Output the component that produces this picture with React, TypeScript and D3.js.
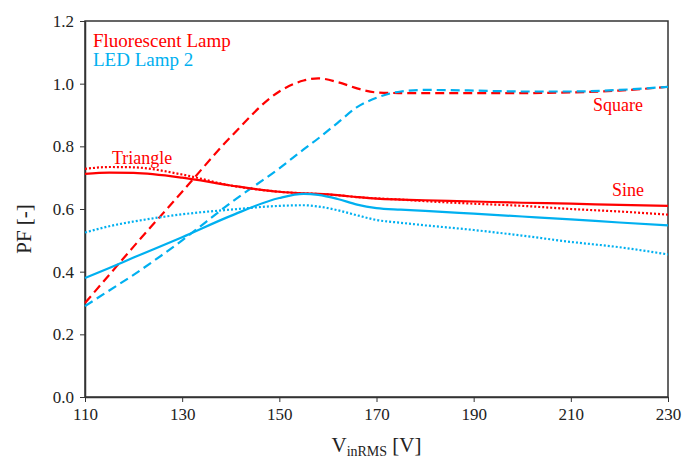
import { useEffect, useRef } from "react";
import * as d3 from "d3";

// voltage samples (V)
const voltages = [110, 115, 120, 130, 140, 150, 155, 158, 162, 166, 170, 175, 180, 190, 200, 210, 220, 230];

// PF values per series
const flSquare = [0.3, 0.39, 0.48, 0.655, 0.83, 0.975, 1.01, 1.017, 1.005, 0.985, 0.972, 0.97, 0.97, 0.97, 0.97, 0.972, 0.978, 0.99];
const flSine = [0.712, 0.716, 0.715, 0.7, 0.675, 0.655, 0.65, 0.648, 0.644, 0.638, 0.633, 0.63, 0.628, 0.624, 0.62, 0.617, 0.613, 0.61];
const flTriangle = [0.728, 0.734, 0.733, 0.71, 0.675, 0.655, 0.65, 0.648, 0.644, 0.638, 0.634, 0.63, 0.625, 0.617, 0.61, 0.6, 0.592, 0.582];
const ledSquare = [0.29, 0.34, 0.39, 0.5, 0.62, 0.73, 0.79, 0.825, 0.875, 0.925, 0.955, 0.975, 0.98, 0.978, 0.975, 0.975, 0.98, 0.99];
const ledSine = [0.38, 0.412, 0.445, 0.51, 0.578, 0.635, 0.648, 0.645, 0.632, 0.614, 0.603, 0.598, 0.594, 0.585, 0.576, 0.567, 0.557, 0.548];
const ledTriangle = [0.525, 0.545, 0.56, 0.583, 0.598, 0.61, 0.612, 0.608, 0.596, 0.58, 0.565, 0.556, 0.548, 0.533, 0.515, 0.495, 0.478, 0.455];

const xTicks = [110, 130, 150, 170, 190, 210, 230];
const yTicks = [0, 0.2, 0.4, 0.6, 0.8, 1.0, 1.2];

const RED = "#ff0000";
const BLUE = "#00b0f0";

const series = [
  { values: flSquare, color: RED, dash: "9,5" },
  { values: ledSquare, color: BLUE, dash: "9,5" },
  { values: flTriangle, color: RED, dash: "2,2" },
  { values: ledTriangle, color: BLUE, dash: "2,2" },
  { values: flSine, color: RED, dash: null },
  { values: ledSine, color: BLUE, dash: null },
];

const FONT = "Liberation Serif";

export default function App() {
  const ref = useRef<SVGSVGElement>(null);

  useEffect(() => {
    if (!ref.current) return;
    const margin = { top: 21, right: 14, bottom: 62, left: 85 };
    const W = 682;
    const H = 459;
    const width = W - margin.left - margin.right;
    const height = H - margin.top - margin.bottom;

    const root = d3.select(ref.current);
    root.selectAll("*").remove();
    const svg = root
      .append("g")
      .attr("transform", `translate(${margin.left},${margin.top})`);

    const x = d3.scaleLinear().domain([110, 230]).range([0, width]);
    const y = d3.scaleLinear().domain([0, 1.2]).range([height, 0]);

    // frame
    svg
      .append("rect")
      .attr("width", width)
      .attr("height", height)
      .attr("fill", "none")
      .attr("stroke", "#333")
      .attr("stroke-width", 1.5);

    // axes
    const xAxis = svg
      .append("g")
      .attr("transform", `translate(0,${height})`)
      .call(d3.axisBottom(x).tickValues(xTicks).tickSize(5).tickSizeOuter(0).tickPadding(6));
    const yAxis = svg
      .append("g")
      .call(
        d3
          .axisLeft(y)
          .tickValues(yTicks)
          .tickSize(5)
          .tickSizeOuter(0)
          .tickPadding(6)
          .tickFormat(d3.format(".1f"))
      );
    [xAxis, yAxis].forEach((g) => {
      g.attr("font-family", FONT).attr("font-size", 17);
      g.select(".domain").attr("stroke", "#333").attr("stroke-width", 1.5);
      g.selectAll(".tick line").attr("stroke", "#333");
      g.selectAll("text").attr("fill", "#222");
    });

    // lines
    const line = d3
      .line<number>()
      .x((_, i) => x(voltages[i]))
      .y((d) => y(d))
      .curve(d3.curveMonotoneX);

    series.forEach((s) => {
      svg
        .append("path")
        .datum(s.values)
        .attr("d", line)
        .attr("fill", "none")
        .attr("stroke", s.color)
        .attr("stroke-width", 2.2)
        .attr("stroke-dasharray", s.dash);
    });

    // legend text
    const label = (txt: string, px: number, py: number, color: string, size = 19) =>
      root
        .append("text")
        .attr("x", px)
        .attr("y", py)
        .attr("fill", color)
        .attr("font-family", FONT)
        .attr("font-size", size)
        .text(txt);

    label("Fluorescent Lamp", 93, 47, RED);
    label("LED Lamp 2", 93, 66, BLUE);
    label("Triangle", 112, 164, RED, 18);
    label("Square", 593, 111, RED, 18);
    label("Sine", 612, 196, RED, 18);

    // axis titles
    root
      .append("text")
      .attr("transform", `translate(31,${margin.top + height / 2 + 20}) rotate(-90)`)
      .attr("text-anchor", "middle")
      .attr("fill", "#222")
      .attr("font-family", FONT)
      .attr("font-size", 21)
      .text("PF [-]");

    const xt = root
      .append("text")
      .attr("x", margin.left + width / 2)
      .attr("y", 452)
      .attr("text-anchor", "middle")
      .attr("fill", "#222")
      .attr("font-family", FONT)
      .attr("font-size", 21);
    xt.append("tspan").text("V");
    xt.append("tspan").attr("dy", 4).attr("font-size", 14).text("inRMS");
    xt.append("tspan").attr("dy", -4).text(" [V]");
  }, []);

  return (
    <svg
      ref={ref}
      width={682}
      height={459}
      style={{ position: "absolute", left: 0, top: 0, background: "#fff" }}
    />
  );
}
